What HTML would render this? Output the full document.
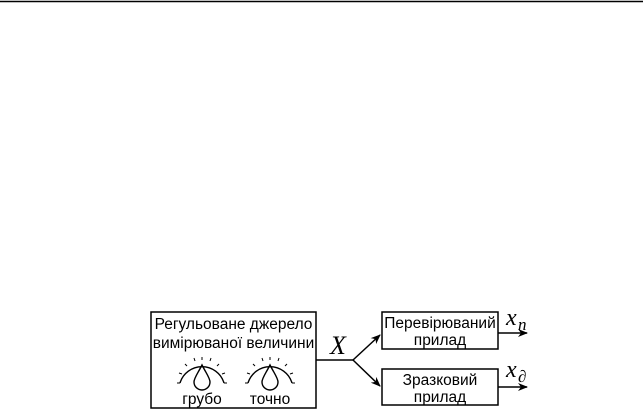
<!DOCTYPE html>
<html><head><meta charset="utf-8"><style>
body{margin:0;width:643px;height:409px;background:#fff;overflow:hidden}
</style></head><body>
<svg width="643" height="409" xmlns="http://www.w3.org/2000/svg" font-family="Liberation Sans, sans-serif">
<defs><marker id="a" markerWidth="10" markerHeight="8" refX="9" refY="4" orient="auto" markerUnits="userSpaceOnUse"><path d="M0,0 L10,4 L0,8 L3,4 Z" fill="#000"/></marker></defs>
<line x1="0" y1="1.5" x2="643" y2="1.5" stroke="#000" stroke-width="1.5"/>
<rect x="151" y="312" width="165" height="96" fill="none" stroke="#000" stroke-width="1.5"/>
<text x="233.5" y="329" font-size="15.5" text-anchor="middle">Регульоване джерело</text>
<text x="233.5" y="348" font-size="15.5" text-anchor="middle">вимірюваної величини</text>
<g fill="none" stroke="#000" stroke-width="1.4">
<path d="M180,383 A23,23 0 0 1 224,383"/>
<path d="M202,365 C198,373 194,378 194,382 A8,8 0 0 0 210,382 C210,378 206,373 202,365 Z"/>
<path d="M248,383 A23,23 0 0 1 292,383"/>
<path d="M270,365 C266,373 262,378 262,382 A8,8 0 0 0 278,382 C278,378 274,373 270,365 Z"/>
</g>
<g stroke="#000" stroke-width="1">
<path d="M180,383h-3 M182,374l-3,-1 M187,366l-2,-2 M195,361l-1,-3 M202,360v-3 M210,361l1,-3 M217,366l2,-2 M222,374l3,-1 M224,383h3"/>
<path d="M248,383h-3 M250,374l-3,-1 M255,366l-2,-2 M263,361l-1,-3 M270,360v-3 M278,361l1,-3 M285,366l2,-2 M290,374l3,-1 M292,383h3"/>
</g>
<text x="202" y="404" font-size="15.5" text-anchor="middle">грубо</text>
<text x="270" y="404" font-size="15.5" text-anchor="middle">точно</text>
<text x="338" y="354" font-size="26" font-style="italic" font-family="Liberation Serif, serif" text-anchor="middle">X</text>
<g stroke="#000" stroke-width="1.5" fill="none">
<line x1="316" y1="360" x2="353" y2="360"/>
<line x1="353" y1="360" x2="380" y2="335" marker-end="url(#a)"/>
<line x1="353" y1="360" x2="380" y2="386" marker-end="url(#a)"/>
<rect x="382" y="312" width="116" height="37"/>
<rect x="382" y="369" width="116" height="36"/>
<line x1="498" y1="333" x2="527" y2="333" marker-end="url(#a)"/>
<line x1="498" y1="387" x2="527" y2="387" marker-end="url(#a)"/>
</g>
<text x="440" y="328" font-size="15.5" text-anchor="middle">Перевірюваний</text>
<text x="440" y="345" font-size="15.5" text-anchor="middle">прилад</text>
<text x="440" y="385" font-size="15.5" text-anchor="middle">Зразковий</text>
<text x="440" y="402" font-size="15.5" text-anchor="middle">прилад</text>
<g font-family="Liberation Serif, serif" font-style="italic">
<text x="506" y="325" font-size="24">x</text><text x="518" y="330" font-size="17">n</text>
<text x="506" y="377" font-size="24">x</text><text x="518" y="382" font-size="17">∂</text>
</g>
</svg>
</body></html>
